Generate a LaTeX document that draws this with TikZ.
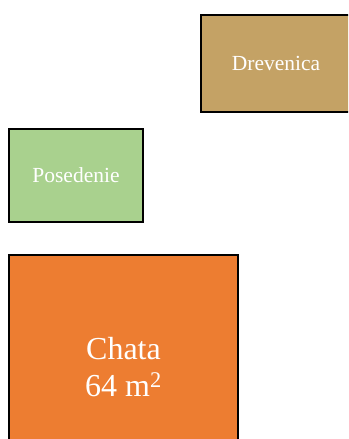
\documentclass[tikz,border=0pt]{standalone}
\usepackage{fontspec}
\setmainfont{Liberation Serif}
\definecolor{wood}{HTML}{C4A265}
\definecolor{lawn}{HTML}{A9D18E}
\definecolor{house}{HTML}{ED7D31}
\begin{document}
\begin{tikzpicture}[x=1pt,y=-1pt,
  plot/.style={draw=black, line width=2.5pt, inner sep=0pt, text=white, align=center}]
\clip (0,0) rectangle (348,439);
\useasboundingbox (0,0) rectangle (348,439);
\node[plot, fill=wood, minimum width=150pt, minimum height=97pt, font=\fontsize{21.5}{25}\selectfont] (area0) at (276,63.5){Drevenica};
\node[plot, fill=lawn, minimum width=134pt, minimum height=93pt, font=\fontsize{21.5}{25}\selectfont] (area1) at (76,175.5){Posedenie};
\node[plot, fill=house, minimum width=229pt, minimum height=224pt, font=\fontsize{32}{37}\selectfont] (area2) at (123.5,367){Chata\\64 m\textsuperscript{2}};
\end{tikzpicture}
\end{document}
